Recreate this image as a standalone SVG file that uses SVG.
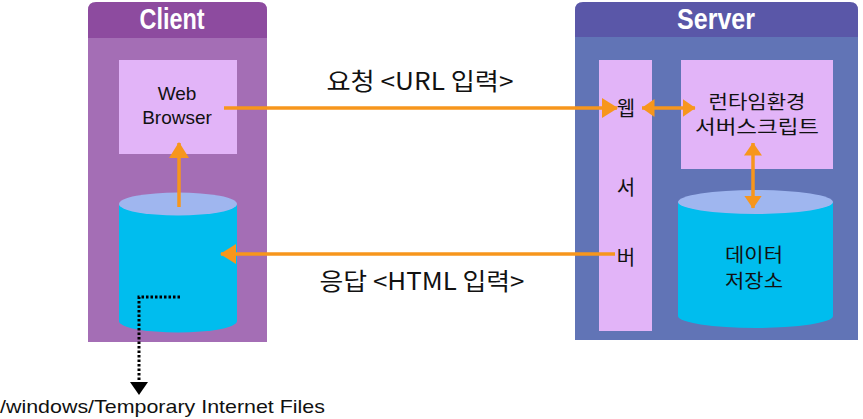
<svg xmlns="http://www.w3.org/2000/svg" width="863" height="419" viewBox="0 0 863 419">
<style>
.ttl{font-family:"Liberation Sans",Arial,sans-serif;font-weight:bold;font-size:29px;fill:#fff;text-anchor:middle}
.lat{font-family:"Liberation Sans",Arial,sans-serif;fill:#111;text-anchor:middle}
.kr{font-family:"Noto Sans CJK KR","Liberation Sans",sans-serif;fill:#111;text-anchor:middle}
.box{fill:#e2b4f8}
.cylb{fill:#00bdee}
.cylt{fill:#9fb6ef}
.arr{stroke:#f7961c;stroke-width:3.5;fill:none}
</style>
<defs>
<marker id="ah" viewBox="0 0 16 20" refX="15" refY="10" markerWidth="16" markerHeight="20" markerUnits="userSpaceOnUse" orient="auto-start-reverse">
<path d="M0,0 L16,10 L0,20 Z" fill="#f7961c"/>
</marker>
<marker id="ahs" viewBox="0 0 13 18" refX="12.5" refY="9" markerWidth="13" markerHeight="18" markerUnits="userSpaceOnUse" orient="auto-start-reverse">
<path d="M0,0 L13,9 L0,18 Z" fill="#f7961c"/>
</marker>
</defs>

<g id="client">
<path d="M88,38 V10 Q88,2 96,2 H259 Q267,2 267,10 V38 Z" fill="#8d4b9f"/>
<rect x="88" y="38" width="179" height="304" fill="#a46eb5"/>
<text class="ttl" x="172" y="29" textLength="65" lengthAdjust="spacingAndGlyphs">Client</text>
</g>

<g id="web-browser">
<rect class="box" x="119" y="60" width="118" height="94"/>
<text class="lat" x="177" y="100" font-size="19">Web</text>
<text class="lat" x="177" y="124" font-size="19">Browser</text>
</g>

<g id="client-cache">
<path class="cylb" d="M119,204 V321 A59,11.5 0 0 0 237,321 V204 Z"/>
<ellipse class="cylt" cx="178" cy="204" rx="59" ry="11.5"/>
</g>

<g id="server">
<path d="M575,37 V10 Q575,2 583,2 H850 Q858,2 858,10 V37 Z" fill="#5a57a8"/>
<rect x="575" y="37" width="283" height="303" fill="#6174b6"/>
<text class="ttl" x="716" y="29" textLength="78" lengthAdjust="spacingAndGlyphs">Server</text>
</g>

<g id="web-server">
<rect class="box" x="599" y="60" width="53" height="271"/>
<text class="kr" x="626" y="116" font-size="20">웹</text>
<text class="kr" x="626" y="195" font-size="20">서</text>
<text class="kr" x="626" y="265" font-size="20">버</text>
</g>

<g id="runtime">
<rect class="box" x="681" y="60" width="152" height="109"/>
<text class="kr" x="757" y="109" font-size="19" textLength="97" lengthAdjust="spacingAndGlyphs">런타임환경</text>
<text class="kr" x="757" y="134" font-size="19" textLength="124" lengthAdjust="spacingAndGlyphs">서버스크립트</text>
</g>

<g id="data-store">
<path class="cylb" d="M678,202 V316 A77.5,12 0 0 0 833,316 V202 Z"/>
<ellipse class="cylt" cx="755.5" cy="202" rx="77.5" ry="12"/>
<text class="kr" x="754" y="262" font-size="19" textLength="58" lengthAdjust="spacingAndGlyphs">데이터</text>
<text class="kr" x="754" y="288" font-size="19" textLength="58" lengthAdjust="spacingAndGlyphs">저장소</text>
</g>

<g id="connectors">
<line class="arr" x1="224" y1="108" x2="617" y2="108" marker-end="url(#ah)"/>
<line class="arr" x1="615" y1="254" x2="221" y2="254" marker-end="url(#ah)"/>
<line class="arr" x1="642" y1="108" x2="695" y2="108" marker-start="url(#ahs)" marker-end="url(#ahs)"/>
<line class="arr" x1="753" y1="143" x2="753" y2="208" marker-start="url(#ahs)" marker-end="url(#ahs)"/>
<line class="arr" x1="179" y1="207" x2="179" y2="143" marker-end="url(#ah)"/>
<polyline points="180,297 139,297 139,383" fill="none" stroke="#000" stroke-width="3" stroke-dasharray="2.5 2"/>
<path d="M130,382 L148,382 L139,395 Z" fill="#000"/>
<text class="kr" x="420" y="90" font-size="24" textLength="187" lengthAdjust="spacingAndGlyphs">요청 &lt;URL 입력&gt;</text>
<text class="kr" x="422" y="290" font-size="24" textLength="205" lengthAdjust="spacingAndGlyphs">응답 &lt;HTML 입력&gt;</text>
</g>

<text x="0" y="413" font-family="Liberation Sans,Arial,sans-serif" font-size="19" fill="#111" textLength="325" lengthAdjust="spacingAndGlyphs">/windows/Temporary Internet Files</text>
</svg>
